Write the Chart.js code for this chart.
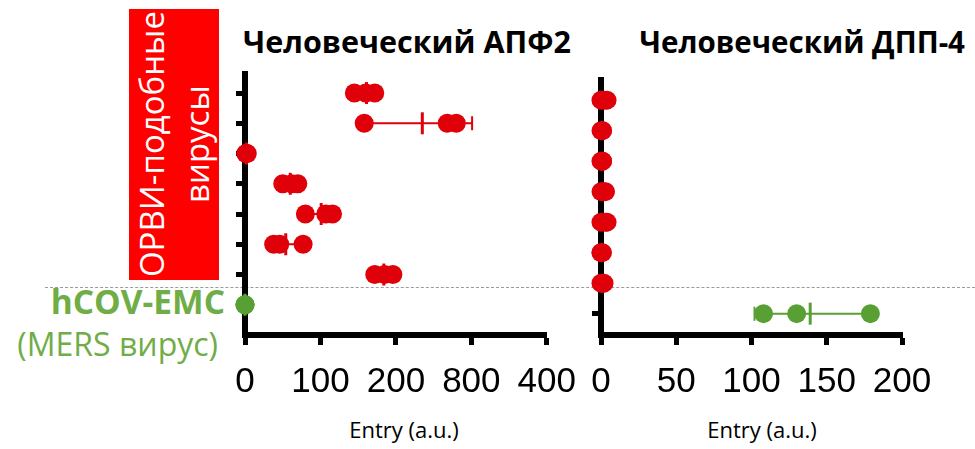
<!DOCTYPE html>
<html lang="ru">
<head>
<meta charset="UTF-8">
<title>Entry (a.u.)</title>
<script src="https://cdn.jsdelivr.net/npm/chart.js"></script>
<style>
  body { margin: 0; width: 975px; height: 449px; background: #fff; position: relative; overflow: hidden; font-family: 'Open Sans', sans-serif; }
  .abs { position: absolute; white-space: nowrap; }
  #box { left: 129px; top: 9px; width: 90px; height: 271px; background: #ff0000; color: #fff; display: flex; align-items: center; justify-content: center; }
  #box span { writing-mode: vertical-rl; transform: rotate(180deg); font-size: 33px; line-height: 45px; text-align: center; }
  .title { font-weight: bold; line-height: 41px; color: #000; }
  .entry { font-size: 22px; line-height: 30px; color: #000; width: 200px; text-align: center; }
  .green { color: #70ad47; font-size: 32px; line-height: 44px; }
  #dash { left: 45px; top: 287px; width: 930px; border-top: 1px dashed #9a9a9a; }
  canvas { position: absolute; }
</style>
</head>
<body>

<div id="box" class="abs"><span>ОРВИ-подобные<br>вирусы</span></div>
<div class="abs title" style="left:243px; top:21px; font-size:30.5px;">Человеческий АПФ2</div>
<div class="abs title" style="right:10px; top:21px; font-size:29.5px;">Человеческий ДПП-4</div>
<div class="abs green" style="right:750px; top:279px; font-weight:bold; font-size:33.5px;">hCOV-EMC</div>
<div class="abs green" style="right:757px; top:322px;">(MERS вирус)</div>
<div class="abs entry" style="left:304px; top:414px;">Entry (a.u.)</div>
<div class="abs entry" style="left:662px; top:414px;">Entry (a.u.)</div>
<div id="dash" class="abs"></div>

<canvas id="ace2" width="380" height="345" style="left:200px; top:60px;"></canvas>
<canvas id="dpp4" width="390" height="345" style="left:585px; top:60px;"></canvas>

<script>
  // rows: 8 = top ... 2 = lowest SARS-like, 1 = hCOV-EMC
  const sarsRows = [8, 7, 6, 5, 4, 3, 2];
  const mersRow = 1;

  // Human ACE2
  const ace2Sars = [[145, 160, 172], [158, 268, 280], [1, 2, 3], [50, 62, 70], [80, 107, 116], [38, 46, 77], [172, 185, 196]];
  const ace2SarsMean = [161, 235, 2, 60, 101, 54, 184];
  const ace2SarsLo = [150, 160, 0, 52, 84, 40, 176];
  const ace2SarsHi = [170, 301, 3, 68, 112, 75, 192];
  const ace2Mers = [0, 0, 0];
  const ace2MersMean = 0;
  const ace2Ticks = ['0', '100', '200', '800', '400'];

  // Human DPP4
  const dpp4Sars = [[0, 2, 4], [0, 1, 1], [0, 1, 1], [0, 2, 3], [0, 3, 4], [0, 0, 1], [0, 1, 2]];
  const dpp4Mers = [108, 130, 179];
  const dpp4MersMean = 139;
  const dpp4MersLo = 102;
  const dpp4MersHi = 178;
  const dpp4Ticks = ['0', '50', '100', '150', '200'];

  const RED = '#e0000a';
  const GREEN = '#58a033';

  const errorBars = {
    id: 'errorBars',
    beforeDatasetsDraw(chart, args, opts) {
      const ctx = chart.ctx, xs = chart.scales.x, ys = chart.scales.y;
      ctx.save();
      opts.bars.forEach(b => {
        const y = ys.getPixelForValue(b.row);
        const x1 = xs.getPixelForValue(b.lo), x2 = xs.getPixelForValue(b.hi);
        ctx.strokeStyle = b.color;
        ctx.lineWidth = 2;
        ctx.beginPath();
        ctx.moveTo(x1, y); ctx.lineTo(x2, y);
        ctx.moveTo(x1, y - 7); ctx.lineTo(x1, y + 7);
        ctx.moveTo(x2, y - 7); ctx.lineTo(x2, y + 7);
        ctx.stroke();
      });
      ctx.restore();
    }
  };

  function dots(rows, vals) {
    const pts = [];
    rows.forEach((r, i) => vals[i].forEach(v => pts.push({ x: v, y: r })));
    return pts;
  }

  function makeChart(id, cfg) {
    const ticksY = [...sarsRows, mersRow];
    return new Chart(document.getElementById(id), {
      type: 'scatter',
      data: { datasets: cfg.datasets },
      options: {
        responsive: false,
        animation: false,
        events: [],
        layout: { padding: cfg.padding },
        plugins: { legend: { display: false }, tooltip: { enabled: false }, errorBars: { bars: cfg.bars } },
        scales: {
          x: {
            type: 'linear', min: cfg.xMin, max: cfg.xMax,
            ticks: {
              stepSize: cfg.step, color: '#000', padding: 4,
              font: { family: 'Liberation Sans', size: 35, lineHeight: 1.9 },
              maxRotation: 0, autoSkip: false,
              callback: (v, i) => cfg.tickLabels[i]
            },
            grid: { display: true, drawOnChartArea: false, drawTicks: true, tickLength: 10, tickWidth: 5, tickColor: '#000' },
            border: { display: true, color: '#000', width: 6 },
            afterFit: s => { s.height = 60; }
          },
          y: {
            type: 'linear', min: cfg.yMin, max: cfg.yMax,
            afterBuildTicks: s => { s.ticks = ticksY.map(v => ({ value: v })); },
            ticks: { display: false },
            grid: { display: true, drawOnChartArea: false, drawTicks: true, tickLength: 9, tickWidth: 5, tickColor: '#000' },
            border: { display: true, color: '#000', width: 6 },
            afterFit: s => { s.width = 12; }
          }
        }
      },
      plugins: [errorBars]
    });
  }

  const dotStyle = { pointRadius: 9.5, borderWidth: 0, clip: false, showLine: false };
  const meanStyle = { pointStyle: 'line', rotation: 90, pointRadius: 11, borderWidth: 3, clip: false, showLine: false };

  makeChart('ace2', {
    padding: { left: 33, top: 10, right: 32, bottom: 10 },
    xMin: 0, xMax: 400, step: 100, tickLabels: ace2Ticks,
    yMin: 0, yMax: 8.63,
    bars: sarsRows.map((r, i) => ({ row: r, lo: ace2SarsLo[i], hi: ace2SarsHi[i], color: RED })),
    datasets: [
      Object.assign({ data: dots(sarsRows, ace2Sars), backgroundColor: RED }, dotStyle),
      Object.assign({ data: dots([mersRow], [ace2Mers]), backgroundColor: GREEN }, dotStyle),
      Object.assign({ data: sarsRows.map((r, i) => ({ x: ace2SarsMean[i], y: r })), borderColor: RED }, meanStyle),
      Object.assign({ data: [{ x: ace2MersMean, y: mersRow }], borderColor: GREEN }, meanStyle)
    ]
  });

  makeChart('dpp4', {
    padding: { left: 4, top: 20, right: 73, bottom: 10 },
    xMin: 0, xMax: 200, step: 50, tickLabels: dpp4Ticks,
    yMin: 0.3, yMax: 8.66,
    bars: [{ row: mersRow, lo: dpp4MersLo, hi: dpp4MersHi, color: GREEN }],
    datasets: [
      Object.assign({ data: dots(sarsRows, dpp4Sars), backgroundColor: RED }, dotStyle),
      Object.assign({ data: dots([mersRow], [dpp4Mers]), backgroundColor: GREEN }, dotStyle),
      Object.assign({ data: [{ x: dpp4MersMean, y: mersRow }], borderColor: GREEN }, meanStyle)
    ]
  });
</script>
</body>
</html>
